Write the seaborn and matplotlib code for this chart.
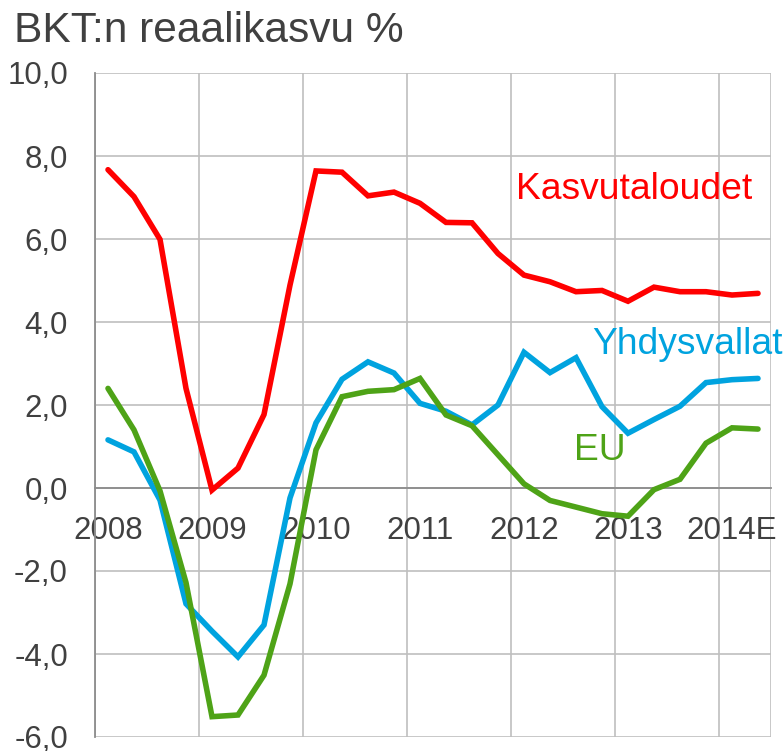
import numpy as np
import pandas as pd
import matplotlib
matplotlib.use("Agg")
import matplotlib.pyplot as plt
from matplotlib.ticker import FixedLocator, FuncFormatter
import seaborn as sns

# ---- data (quarterly, 2008Q1 .. 2014Q2) ----
year_labels = ["2008", "2009", "2010", "2011", "2012", "2013", "2014E"]
kasvutaloudet = [7.67, 7.02, 5.99, 2.40, -0.05, 0.48, 1.77, 4.89, 7.64, 7.61, 7.04, 7.13, 6.86,
                 6.40, 6.39, 5.65, 5.13, 4.97, 4.73, 4.76, 4.50, 4.84, 4.73, 4.73, 4.65, 4.69]
yhdysvallat = [1.16, 0.87, -0.29, -2.79, -3.45, -4.07, -3.30, -0.24, 1.57, 2.62, 3.04, 2.77, 2.04,
               1.85, 1.52, 2.00, 3.27, 2.78, 3.14, 1.96, 1.32, 1.65, 1.97, 2.54, 2.61, 2.64]
eu = [2.40, 1.40, -0.07, -2.28, -5.51, -5.47, -4.51, -2.31, 0.92, 2.20, 2.33, 2.37, 2.64,
      1.76, 1.50, 0.80, 0.10, -0.30, -0.46, -0.62, -0.68, -0.04, 0.21, 1.08, 1.45, 1.42]
series_names = ["Kasvutaloudet", "Yhdysvallat", "EU"]
colors = {"Kasvutaloudet": "#FF0000", "Yhdysvallat": "#00A3DF", "EU": "#4EA317"}

n = len(kasvutaloudet)
df = pd.DataFrame({
    "q": list(range(n)) * 3,
    "value": kasvutaloudet + yhdysvallat + eu,
    "series": sum([[s] * n for s in series_names], []),
})

sns.set_style("white")
plt.rcParams["font.family"] = ["Liberation Sans", "DejaVu Sans"]
text_col = "#404040"
grid_col = "#BFBFBF"
axis_col = "#8C8C8C"

fig = plt.figure(figsize=(7.83, 7.51), dpi=100)
ax = fig.add_axes([95 / 783, 1 - 737 / 751, (771 - 95) / 783, (737 - 73) / 751])

sns.lineplot(data=df, x="q", y="value", hue="series", palette=colors,
             hue_order=series_names, linewidth=4.0, ax=ax, legend=False, zorder=3)
for l in ax.lines:
    l.set_solid_joinstyle("miter")

ax.set_xlim(-0.5, n - 0.5)
ax.set_ylim(-6, 10)

# y axis
ax.set_yticks(np.arange(-6, 10.1, 2))
ax.yaxis.set_major_formatter(FuncFormatter(lambda v, p: f"{v:.1f}".replace(".", ",")))
ax.tick_params(axis="y", which="major", length=6.5, width=1, color=axis_col, direction="out",
               labelsize=22.5, labelcolor=text_col, pad=13)
ax.yaxis.grid(True, color=grid_col, linewidth=1.2, zorder=0)

# x axis: boundaries with gridlines, labels at category centres
bounds = np.arange(-0.5, n, 4)
ax.xaxis.set_major_locator(FixedLocator(list(bounds) + [n - 0.5]))
ax.xaxis.set_major_formatter(FuncFormatter(lambda v, p: ""))
ax.xaxis.set_minor_locator(FixedLocator([4 * i for i in range(len(year_labels))]))
ax.xaxis.set_minor_formatter(FuncFormatter(lambda v, p: year_labels[int(round(v / 4))]))
ax.tick_params(axis="x", which="major", length=6, color=axis_col, direction="out")
ax.tick_params(axis="x", which="minor", length=0, labelsize=22.5, labelcolor=text_col, pad=20)
ax.xaxis.grid(True, which="major", color=grid_col, linewidth=1.2, zorder=0)

ax.spines["bottom"].set_position(("data", 0))
ax.spines["bottom"].set_color(axis_col)
ax.spines["bottom"].set_linewidth(1.3)
ax.spines["left"].set_color(axis_col)
ax.spines["left"].set_linewidth(1.3)
ax.spines["right"].set_visible(False)
ax.spines["top"].set_visible(False)
ax.set_axisbelow(True)
ax.set_xlabel("")
ax.set_ylabel("")

# series labels
ax.text(15.69, 6.96, "Kasvutaloudet", color=colors["Kasvutaloudet"], fontsize=26.8,
        ha="left", va="baseline", zorder=4)
ax.text(18.62, 3.23, "Yhdysvallat", color=colors["Yhdysvallat"], fontsize=26.8,
        ha="left", va="baseline", zorder=4, clip_on=False)
ax.text(17.92, 0.67, "EU", color=colors["EU"], fontsize=26.8,
        ha="left", va="baseline", zorder=4)

fig.text(14 / 783, 1 - 42 / 751, "BKT:n reaalikasvu %", color=text_col, fontsize=30.6,
         ha="left", va="baseline")

fig.savefig("out.png", dpi=100)
